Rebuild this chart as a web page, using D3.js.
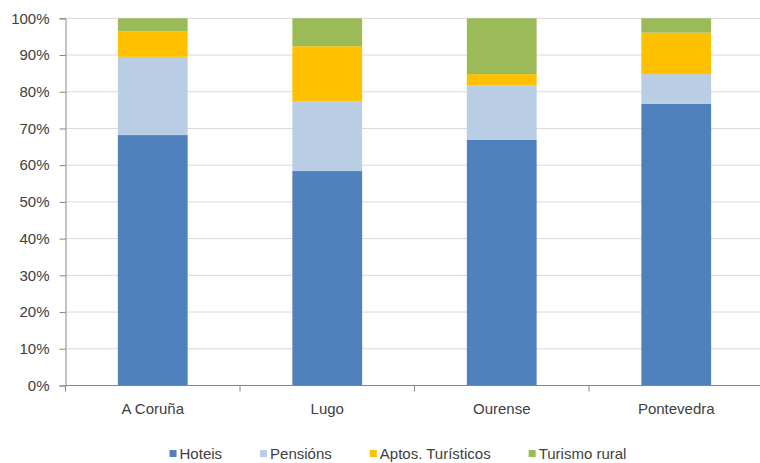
<!DOCTYPE html>
<html>
<head>
<meta charset="utf-8">
<script src="https://cdn.jsdelivr.net/npm/d3@7"></script>
<style>
  body { margin: 0; background: #fff; }
  text { font-family: "Liberation Sans", Arial, sans-serif; fill: #404040; }
</style>
</head>
<body>
<svg id="chart" width="760" height="463"></svg>
<script>
// Provinces on the x axis
const provinces = ['A Coruña', 'Lugo', 'Ourense', 'Pontevedra'];

// Share of each accommodation type (percent)
const hoteis = [68.2, 58.4, 66.9, 76.7];
const pensions = [21.3, 18.9, 14.9, 8.1];
const aptos = [7.0, 15.1, 3.0, 11.3];
const turismo = [3.5, 7.6, 15.2, 3.9];

const seriesNames = ['Hoteis', 'Pensións', 'Aptos. Turísticos', 'Turismo rural'];
const seriesColors = ['#4F81BD', '#B9CDE5', '#FFC000', '#9BBB59'];

const yTicks = [0, 10, 20, 30, 40, 50, 60, 70, 80, 90, 100];

// Build rows for d3.stack
const rows = provinces.map((p, i) => ({
  province: p,
  Hoteis: hoteis[i],
  'Pensións': pensions[i],
  'Aptos. Turísticos': aptos[i],
  'Turismo rural': turismo[i],
}));

const svg = d3.select('#chart');
const plot = { left: 65.5, right: 763.5, top: 18.3, bottom: 385.5 };

const x = d3.scaleBand()
  .domain(provinces)
  .range([plot.left, plot.right])
  .padding(0);

const y = d3.scaleLinear()
  .domain([0, 100])
  .range([plot.bottom, plot.top]);

const color = d3.scaleOrdinal().domain(seriesNames).range(seriesColors);

// Horizontal gridlines
svg.append('g')
  .selectAll('line')
  .data(yTicks.filter((d) => d > 0))
  .join('line')
  .attr('x1', plot.left)
  .attr('x2', plot.right)
  .attr('y1', (d) => y(d))
  .attr('y2', (d) => y(d))
  .attr('stroke', '#D9D9D9')
  .attr('stroke-width', 1);

// Stacked bars
const stacked = d3.stack().keys(seriesNames)(rows);
const barWidth = x.bandwidth() * 0.4;

svg.append('g')
  .selectAll('g')
  .data(stacked)
  .join('g')
  .attr('fill', (d) => color(d.key))
  .selectAll('rect')
  .data((d) => d)
  .join('rect')
  .attr('x', (d) => x(d.data.province) + (x.bandwidth() - barWidth) / 2)
  .attr('width', barWidth)
  .attr('y', (d) => y(d[1]))
  .attr('height', (d) => y(d[0]) - y(d[1]));

// Y axis
const yAxis = svg.append('g')
  .attr('transform', `translate(${plot.left},0)`)
  .call(d3.axisLeft(y).tickValues(yTicks).tickSize(6).tickPadding(10)
    .tickFormat((d) => `${d}%`));
yAxis.select('.domain').attr('stroke', '#868686');
yAxis.selectAll('.tick line').attr('stroke', '#868686');
yAxis.selectAll('.tick text')
  .attr('fill', '#404040')
  .style('font-size', '15px')
  .style('font-family', '"Liberation Sans", Arial, sans-serif');

// X axis: line at 0% with ticks between categories
const xAxis = svg.append('g');
xAxis.append('line')
  .attr('x1', plot.left)
  .attr('x2', plot.right)
  .attr('y1', plot.bottom)
  .attr('y2', plot.bottom)
  .attr('stroke', '#868686');
xAxis.selectAll('line.tick')
  .data(provinces.concat(['end']))
  .join('line')
  .attr('class', 'tick')
  .attr('x1', (d) => (d === 'end' ? plot.right : x(d)))
  .attr('x2', (d) => (d === 'end' ? plot.right : x(d)))
  .attr('y1', plot.bottom)
  .attr('y2', plot.bottom + 6)
  .attr('stroke', '#868686');
xAxis.selectAll('text')
  .data(provinces)
  .join('text')
  .attr('x', (d) => x(d) + x.bandwidth() / 2)
  .attr('y', 414)
  .attr('text-anchor', 'middle')
  .style('font-size', '15px')
  .text((d) => d);

// Legend, centred under the chart
const legend = svg.append('g');
const items = legend.selectAll('g')
  .data(seriesNames)
  .join('g');
items.append('rect')
  .attr('width', 7)
  .attr('height', 7)
  .attr('y', 450)
  .attr('fill', (d) => color(d));
items.append('text')
  .attr('x', 10)
  .attr('y', 459)
  .style('font-size', '15px')
  .text((d) => d);

let offset = 0;
const widths = [];
items.each(function () {
  widths.push(10 + this.querySelector('text').getComputedTextLength());
});
const gap = 38;
const total = d3.sum(widths) + gap * (widths.length - 1);
offset = 398 - total / 2;
items.attr('transform', (d, i) => {
  const tx = offset;
  offset += widths[i] + gap;
  return `translate(${tx},0)`;
});
</script>
</body>
</html>
